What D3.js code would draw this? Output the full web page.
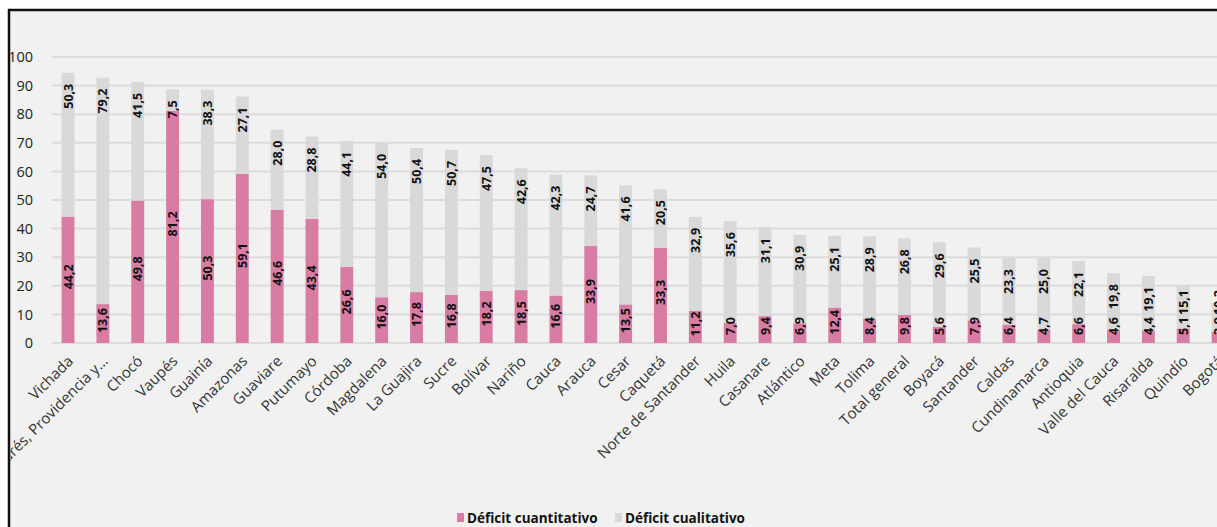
<!DOCTYPE html>
<meta charset="utf-8">
<style>
  body { margin: 0; background: #fff; }
  svg { display: block; font-family: "Open Sans", sans-serif; }
  .tick-label { font-size: 14.5px; fill: #222; }
  .cat-label { font-size: 15px; fill: #333; }
  .val-label { font-size: 12.5px; font-weight: bold; fill: #111; }
  .legend-label { font-size: 13.5px; font-weight: bold; fill: #111; }
</style>
<body>
<svg width="1217" height="527"></svg>
<script src="https://d3js.org/d3.v7.min.js"></script>
<script>

var categories = ["Vichada", "San Andrés, Providencia y...", "Chocó", "Vaupés", "Guainía", "Amazonas",
  "Guaviare", "Putumayo", "Córdoba", "Magdalena", "La Guajira", "Sucre", "Bolívar", "Nariño",
  "Cauca", "Arauca", "Cesar", "Caquetá", "Norte de Santander", "Huila", "Casanare", "Atlántico",
  "Meta", "Tolima", "Total general", "Boyacá", "Santander", "Caldas", "Cundinamarca", "Antioquia",
  "Valle del Cauca", "Risaralda", "Quindío", "Bogotá"];

var cuantitativo = [44.2, 13.6, 49.8, 81.2, 50.3, 59.1, 46.6, 43.4, 26.6, 16.0, 17.8, 16.8, 18.2, 18.5,
  16.6, 33.9, 13.5, 33.3, 11.2, 7.0, 9.4, 6.9, 12.4, 8.4, 9.8, 5.6, 7.9, 6.4, 4.7, 6.6, 4.6, 4.4, 5.1, 3.9];

var cualitativo = [50.3, 79.2, 41.5, 7.5, 38.3, 27.1, 28.0, 28.8, 44.1, 54.0, 50.4, 50.7, 47.5, 42.6,
  42.3, 24.7, 41.6, 20.5, 32.9, 35.6, 31.1, 30.9, 25.1, 28.9, 26.8, 29.6, 25.5, 23.3, 25.0, 22.1, 19.8, 19.1, 15.1, 10.2];

var yTicks = [0, 10, 20, 30, 40, 50, 60, 70, 80, 90, 100];

var seriesNames = ["Déficit cuantitativo", "Déficit cualitativo"];
var colors = ["#d97ca4", "#d9d9d9"];

var svg = d3.select("svg");
var width = +svg.attr("width"),
    height = +svg.attr("height");

var locale = d3.formatLocale({decimal: ",", thousands: ".", grouping: [3], currency: ["$", ""]});
var fmt = locale.format(".1f");

var x = d3.scaleBand()
    .domain(categories)
    .range([50.6, 1235.5])
    .paddingInner(0.63)
    .paddingOuter(0.315);

var y = d3.scaleLinear()
    .domain([0, 100])
    .range([343, 57]);

// frame
svg.append("rect")
    .attr("x", 9).attr("y", 10)
    .attr("width", width).attr("height", height)
    .attr("fill", "#f1f1f1");

svg.append("clipPath").attr("id", "clip")
  .append("rect")
    .attr("x", 10.5).attr("y", 11)
    .attr("width", width).attr("height", height);

var g = svg.append("g").attr("clip-path", "url(#clip)");

// gridlines
g.selectAll(".grid")
    .data(yTicks)
  .enter().append("line")
    .attr("x1", 52).attr("x2", width)
    .attr("y1", function(d) { return y(d); })
    .attr("y2", function(d) { return y(d); })
    .attr("stroke", "#dcdcdc")
    .attr("stroke-width", 2);

g.selectAll(".tick-label")
    .data(yTicks)
  .enter().append("text")
    .attr("class", "tick-label")
    .attr("x", 33)
    .attr("y", function(d) { return y(d); })
    .attr("dy", "0.36em")
    .attr("text-anchor", "end")
    .text(function(d) { return d; });

var rows = categories.map(function(c, i) {
  return {cat: c, a: cuantitativo[i], b: cualitativo[i]};
});

// bars
var bar = g.selectAll(".bar")
    .data(rows)
  .enter().append("g")
    .attr("class", "bar");

bar.append("rect")
    .attr("x", function(d) { return x(d.cat); })
    .attr("width", x.bandwidth())
    .attr("y", function(d) { return y(d.a); })
    .attr("height", function(d) { return y(0) - y(d.a); })
    .attr("fill", colors[0]);

bar.append("rect")
    .attr("x", function(d) { return x(d.cat); })
    .attr("width", x.bandwidth())
    .attr("y", function(d) { return y(d.a + d.b); })
    .attr("height", function(d) { return y(d.a) - y(d.a + d.b); })
    .attr("fill", colors[1]);

// value labels
bar.append("text")
    .attr("class", "val-label")
    .attr("text-anchor", "middle")
    .attr("dy", "0.36em")
    .attr("transform", function(d) {
      var cy = Math.min((y(0) + y(d.a)) / 2 - 3, 326);
      return "translate(" + (x(d.cat) + x.bandwidth() / 2) + "," + cy + ") rotate(-90)";
    })
    .text(function(d) { return fmt(d.a); });

bar.append("text")
    .attr("class", "val-label")
    .attr("text-anchor", "end")
    .attr("dy", "0.36em")
    .attr("transform", function(d) {
      var ey = Math.min(y(d.a + d.b) + 11, 290);
      return "translate(" + (x(d.cat) + x.bandwidth() / 2) + "," + ey + ") rotate(-90)";
    })
    .text(function(d) { return fmt(d.b); });

// category labels
g.selectAll(".cat-label")
    .data(categories)
  .enter().append("text")
    .attr("class", "cat-label")
    .attr("text-anchor", "end")
    .attr("transform", function(d) {
      return "translate(" + (x(d) + x.bandwidth() / 2 + 6) + ",362) rotate(-45)";
    })
    .text(function(d) { return d; });

// border
svg.append("line")
    .attr("x1", 8).attr("x2", width).attr("y1", 10).attr("y2", 10)
    .attr("stroke", "#111").attr("stroke-width", 2.5);
svg.append("line")
    .attr("x1", 9).attr("x2", 9).attr("y1", 9).attr("y2", height)
    .attr("stroke", "#111").attr("stroke-width", 2.5);

// legend
var legend = svg.append("g").attr("transform", "translate(457,518)");
var lx = [0, 158];
seriesNames.forEach(function(name, i) {
  var item = legend.append("g").attr("transform", "translate(" + lx[i] + ",0)");
  item.append("rect")
      .attr("x", 0).attr("y", -5)
      .attr("width", 7).attr("height", 9)
      .attr("fill", colors[i]);
  item.append("text")
      .attr("class", "legend-label")
      .attr("x", 10)
      .attr("dy", "0.36em")
      .text(name);
});

</script>
</body>
